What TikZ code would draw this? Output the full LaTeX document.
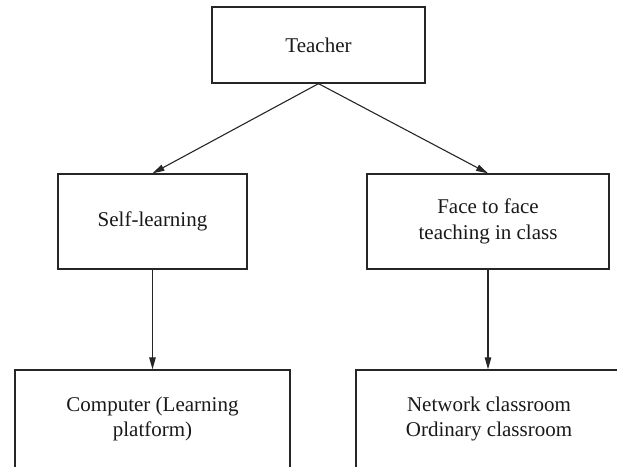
\documentclass[tikz,border=0pt]{standalone}
\usepackage{fontspec}
\setmainfont{Liberation Serif}
\usetikzlibrary{arrows.meta}
\begin{document}
\begin{tikzpicture}[x=1pt,y=1pt,
  box/.style={draw=black!85, line width=1.3pt, inner sep=0pt, align=center,
    font=\fontsize{21}{25.5}\selectfont, text=black!90},
  conn/.style={draw=black!85, line width=1.1pt, -{Triangle[length=12pt,width=6.5pt]}}]
\clip (0,0) rectangle (617,466);
\node[box, minimum width=213pt, minimum height=76pt] (teacher) at (318.5,421) {Teacher};
\node[box, minimum width=189pt, minimum height=95pt] (self) at (152.5,244.5) {Self-learning};
\node[box, minimum width=242pt, minimum height=95pt] (face) at (488,244.5) {Face to face\\teaching in class};
\node[box, minimum width=275pt, minimum height=98pt] (comp) at (152.5,47) {Computer (Learning\\platform)};
\node[box, minimum width=266pt, minimum height=98pt] (net) at (489,47) {Network classroom\\Ordinary classroom};
\draw[conn] (teacher.south) -- (self.north);
\draw[conn] (teacher.south) -- (face.north);
\draw[conn] (self.south) -- (comp.north);
\draw[conn] (face.south) -- (face.south |- net.north);
\end{tikzpicture}
\end{document}
